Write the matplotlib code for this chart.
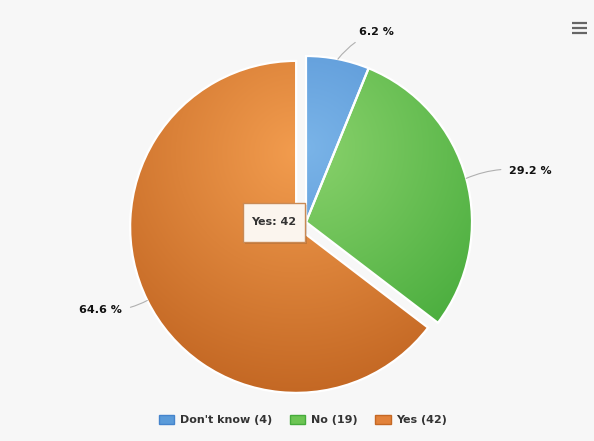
import numpy as np
import matplotlib
matplotlib.use("Agg")
import matplotlib.pyplot as plt
from matplotlib.patches import Patch, Rectangle
from matplotlib.colors import to_rgb

# data
labels = ["Don't know", "No", "Yes"]
counts = [4, 19, 42]

# styles
light = ['#7ab4e8', '#8ad26c', '#f29c4e']
dark = ['#4584cc', '#46ab3b', '#c46824']
mid = ['#5b9bd9', '#6cc553', '#e2823a']
explode = [0, 0, 11]

W, H = 594, 441
fig = plt.figure(figsize=(W / 100, H / 100), dpi=100)
fig.patch.set_facecolor('#f7f7f7')
ax = fig.add_axes([0, 0, 1, 1])
ax.set_facecolor('#f7f7f7')

cx, cy, r = 306, H - 222, 166
wedges, _ = ax.pie(counts, center=(cx, cy), radius=r, startangle=90,
                   counterclock=False, explode=explode, colors=mid,
                   wedgeprops=dict(edgecolor='white', linewidth=1.6), frame=False)

# radial gradient inside each slice (light near the top, darker at the rim)
N = 300
for w, c0, c1 in zip(wedges, light, dark):
    wx, wy = w.center
    xs = np.linspace(wx - r, wx + r, N)
    ys = np.linspace(wy - r, wy + r, N)
    X, Y = np.meshgrid(xs, ys)
    d = np.hypot(X - wx, Y - (wy + 0.45 * r)) / (1.45 * r)
    d = np.clip(d, 0, 1)[..., None]
    img = np.array(to_rgb(c0)) * (1 - d) + np.array(to_rgb(c1)) * d
    im = ax.imshow(img, extent=(wx - r, wx + r, wy - r, wy + r), origin='lower',
                   zorder=0.5, interpolation='bilinear')
    im.set_clip_path(w)
    w.set_facecolor('none')

# percentage labels with connectors
total = sum(counts)
start = 90.0
for w, c in zip(wedges, counts):
    frac = c / total
    ang = np.deg2rad(start - 180 * frac)
    start -= 360 * frac
    wx, wy = w.center
    dx, dy = np.cos(ang), np.sin(ang)
    ex, ey = wx + r * dx, wy + r * dy
    right = dx >= 0
    tx = wx + (r + 28) * dx + (16 if right else 0)
    ty = wy + (r + 28) * dy + (0 if right else 3)
    ax.annotate(f"{100 * frac:.1f} %", xy=(ex, ey), xytext=(tx, ty),
                ha='left' if right else 'right', va='center',
                fontsize=8, weight='bold', color='#111111',
                arrowprops=dict(arrowstyle='-', color='#b0b0b0', lw=0.8,
                                shrinkA=4, shrinkB=0,
                                connectionstyle='arc3,rad=0.15'))

# tooltip
tx0, ty0, bw, bh = 274, H - 222, 62, 39
ax.add_patch(Rectangle((tx0 - bw / 2 + 2, ty0 - bh / 2 - 2), bw, bh,
                       fc='#000000', alpha=0.12, ec='none', zorder=4))
ax.add_patch(Rectangle((tx0 - bw / 2, ty0 - bh / 2), bw, bh,
                       fc='#fbf5ee', ec='#c98a55', lw=1, zorder=4.5))
ax.text(tx0, ty0, f"{labels[2]}: {counts[2]}", ha='center', va='center',
        fontsize=8, weight='bold', color='#333333', zorder=5)

# menu icon
for yy in (23, 28, 33):
    ax.plot([572, 587], [H - yy, H - yy], color='#666666', lw=1.6,
            solid_capstyle='butt')

ax.set_xlim(0, W)
ax.set_ylim(0, H)
ax.set_aspect('equal')
ax.axis('off')

handles = [Patch(facecolor=m, edgecolor=d) for m, d in zip(mid, dark)]
leg = fig.legend(handles, [f"{l} ({c})" for l, c in zip(labels, counts)],
                 loc='center', bbox_to_anchor=(0.51, 21 / H), ncol=3, frameon=False,
                 prop=dict(weight='bold', size=8), handlelength=1.4,
                 handleheight=0.9, columnspacing=1.6, handletextpad=0.5)
for t in leg.get_texts():
    t.set_color('#333333')

fig.savefig('out.png', dpi=100, facecolor=fig.get_facecolor())
